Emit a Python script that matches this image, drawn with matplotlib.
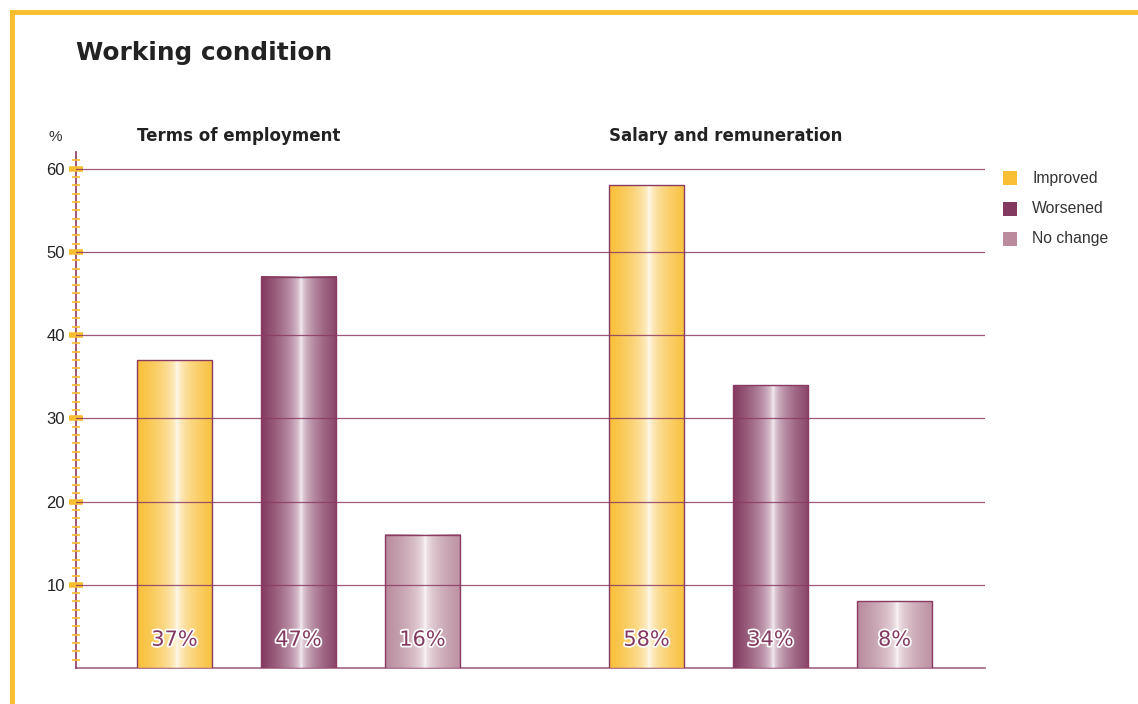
import numpy as np
import matplotlib
matplotlib.use("Agg")
import matplotlib.pyplot as plt
from matplotlib.colors import to_rgb
from matplotlib.patches import Rectangle
from matplotlib.lines import Line2D
import matplotlib.patheffects as pe

# data
groups = ["Terms of employment", "Salary and remuneration"]
series = ["Improved", "Worsened", "No change"]
values = [[37, 47, 16], [58, 34, 8]]
colors = ["#F9BF36", "#833A60", "#B98B9C"]

purple = "#8B3A62"
yellow = "#F9BE2D"
plain = "Liberation Sans"

fig = plt.figure(figsize=(11.38, 7.04), dpi=100)
W, H = 1138, 704
ax = fig.add_axes([76 / W, 1 - 668 / H, (985 - 76) / W, (668 - 152) / H])

def gradient_bar(ax, x0, w, h, col):
    n = 200
    t = np.linspace(0, 1, n)
    d = np.abs(t - 0.53) / 0.53
    d = np.clip(d, 0, 1) ** 0.45
    c = np.array(to_rgb(col))
    img = (1 - d)[:, None] * np.ones(3) + d[:, None] * c
    img = img[None, :, :]
    ax.imshow(img, extent=[x0, x0 + w, 0, h], aspect="auto", zorder=3,
              interpolation="bilinear")
    ax.add_patch(Rectangle((x0, 0), w, h, fill=False, edgecolor=purple,
                           linewidth=1.0, zorder=4))

group_start = [0, 3.806]
bw = 0.605
for g, vals in enumerate(values):
    for i, v in enumerate(vals):
        xc = group_start[g] + i
        gradient_bar(ax, xc - bw / 2, bw, v, colors[i])
        ax.text(xc, 3.4, f"{v}%", ha="center", va="center", fontsize=15,
                color="#833A60", zorder=6,
                path_effects=[pe.withStroke(linewidth=2.5, foreground="white")])
    ax.text(group_start[g] - bw / 2, 63.9, groups[g], ha="left", va="center",
            fontsize=12, fontweight="bold", color="#222222",
            family="DejaVu Sans", transform=ax.transData, clip_on=False)

ax.set_xlim(-0.794, 6.536)
ax.set_ylim(0, 62)

for yv in range(10, 61, 10):
    ax.axhline(yv, color=purple, linewidth=0.9, alpha=0.85, zorder=5)

for s in ["top", "right"]:
    ax.spines[s].set_visible(False)
ax.spines["left"].set_color(purple)
ax.spines["bottom"].set_color(purple)
ax.spines["left"].set_linewidth(1.2)
ax.spines["bottom"].set_linewidth(1.2)
ax.spines["bottom"].set_alpha(0.8)
ax.spines["left"].set_zorder(0.5)

ax.set_xticks([])
ax.set_yticks(range(10, 61, 10))
ax.set_yticklabels([str(v) for v in range(10, 61, 10)], fontsize=12,
                   color="#222222", family=plain)
ax.set_yticks(np.arange(1, 62, 1), minor=True)
ax.tick_params(axis="y", which="major", direction="inout", length=10, width=4,
               color=yellow, pad=3)
ax.tick_params(axis="y", which="minor", direction="inout", length=6, width=1.2,
               color=yellow)
ax.set_facecolor("none")

fig.text(55 / W, 1 - 137 / H, "%", ha="center", va="center", fontsize=11,
         color="#333333", family=plain)

fig.text(76 / W, 1 - 53 / H, "Working condition", ha="left", va="center",
         fontsize=17.8, fontweight="bold", color="#222222", family="DejaVu Sans")

# legend
for i, name in enumerate(series):
    yc = 178 + i * 30.5
    fig.patches.append(Rectangle((1003 / W, 1 - (yc + 7) / H), 14 / W, 14 / H,
                                 transform=fig.transFigure, facecolor=colors[i],
                                 edgecolor="none"))
    fig.text(1032 / W, 1 - yc / H, name, ha="left", va="center", fontsize=11.3,
             color="#333333", family=plain)

# frame lines
fig.add_artist(Line2D([12 / W, 1], [1 - 12 / H, 1 - 12 / H], color=yellow,
                      linewidth=3.5, transform=fig.transFigure))
fig.add_artist(Line2D([12 / W, 12 / W], [0, 1 - 12 / H], color=yellow,
                      linewidth=3.5, transform=fig.transFigure))

fig.savefig("out.png", dpi=100)
